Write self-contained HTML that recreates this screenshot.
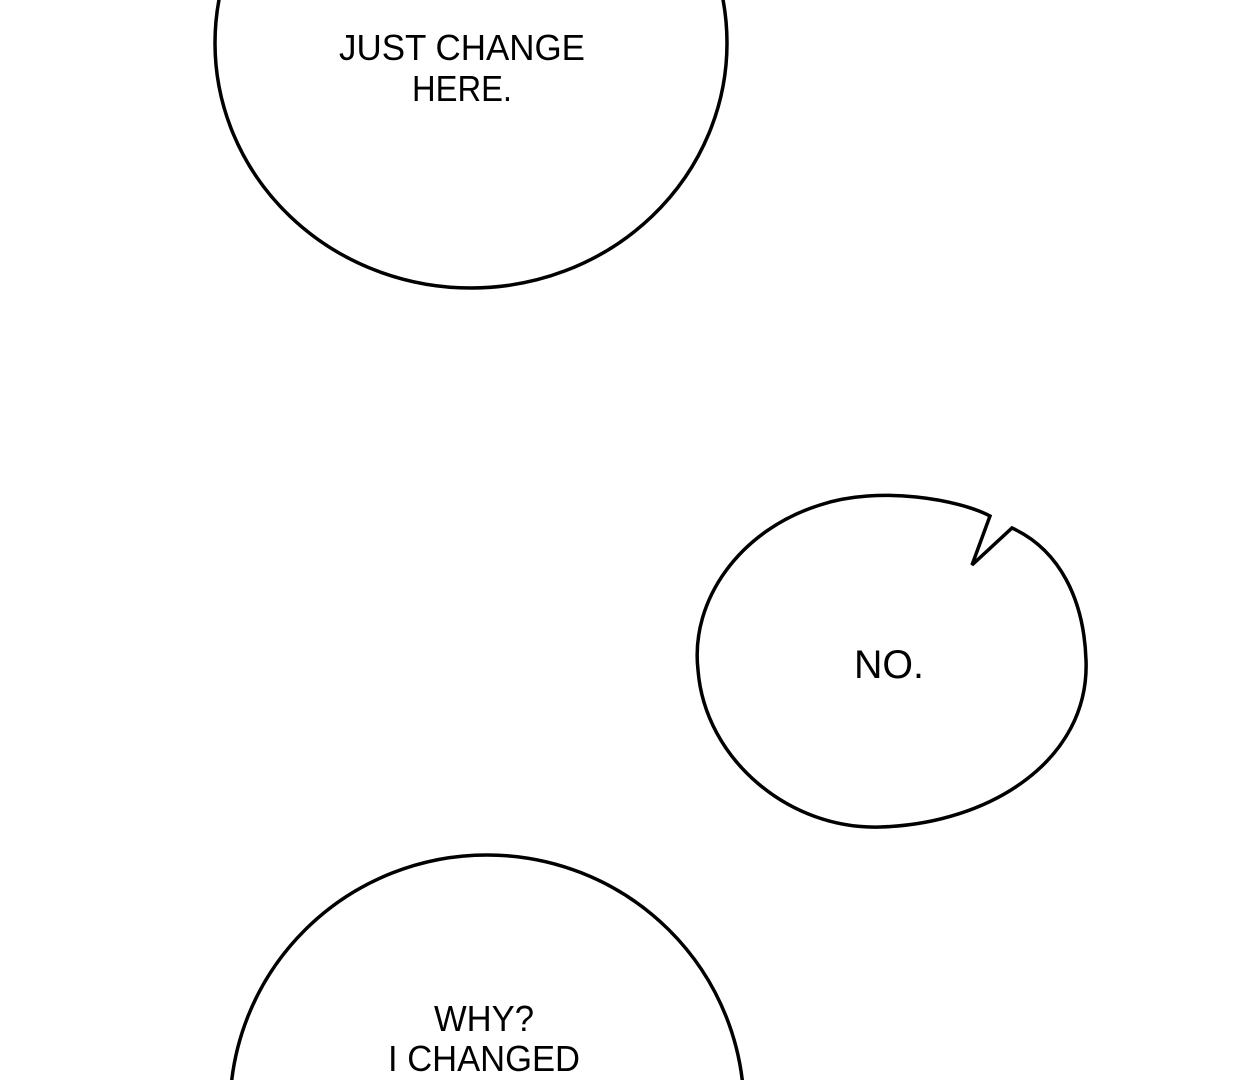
<!DOCTYPE html>
<html><head><meta charset="utf-8"><style>
html,body{margin:0;padding:0;background:#fff;width:1259px;height:1080px;overflow:hidden}
svg{display:block;position:absolute;left:0;top:0}
text{font-family:"Liberation Sans",sans-serif;fill:#000;text-anchor:middle}
</style></head><body>
<svg width="1259" height="1080" viewBox="0 0 1259 1080" overflow="hidden">
<g fill="#fff" stroke="#000" stroke-width="3.5">
<ellipse cx="471" cy="43" rx="256" ry="245"/>
<path d="M990,516 C960,500 880,485 820,505 C740,530 690,600 698,670 C705,760 790,830 880,827 C990,824 1090,760 1086,660 C1084,600 1060,550 1012,528 L972,565 L990,516 Z"/>
<ellipse cx="487" cy="1110" rx="257" ry="255"/>
</g>
<g font-size="36">
<text x="462" y="60" textLength="246" lengthAdjust="spacingAndGlyphs">JUST CHANGE</text>
<text x="462" y="101" textLength="100" lengthAdjust="spacingAndGlyphs">HERE.</text>
<text x="889" y="678" font-size="40" textLength="70" lengthAdjust="spacingAndGlyphs">NO.</text>
<text x="484" y="1031" textLength="100" lengthAdjust="spacingAndGlyphs">WHY?</text>
<text x="484" y="1071" textLength="192" lengthAdjust="spacingAndGlyphs">I CHANGED</text>
</g>
</svg>
</body></html>
